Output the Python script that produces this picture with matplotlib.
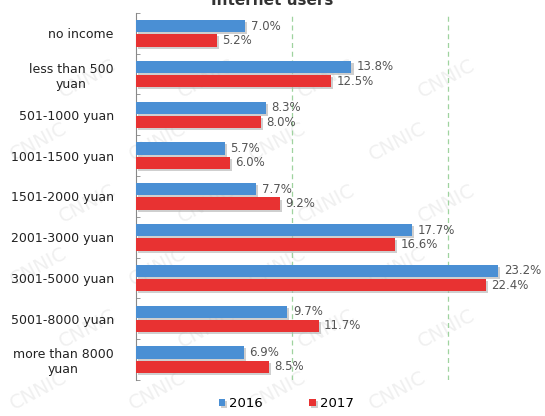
import numpy as np
import matplotlib.pyplot as plt
import matplotlib.patheffects as pe

categories = ['no income', 'less than 500\nyuan', '501-1000 yuan', '1001-1500 yuan',
              '1501-2000 yuan', '2001-3000 yuan', '3001-5000 yuan', '5001-8000 yuan',
              'more than 8000\nyuan']
share_2016 = [7.0, 13.8, 8.3, 5.7, 7.7, 17.7, 23.2, 9.7, 6.9]
share_2017 = [5.2, 12.5, 8.0, 6.0, 9.2, 16.6, 22.4, 11.7, 8.5]

blue = '#4a8fd4'
red = '#e83232'

fig = plt.figure(figsize=(5.45, 4.16), dpi=100)

# faint watermark tiles on a background layer
bg = fig.add_axes([0, 0, 1, 1], zorder=-1)
bg.set_axis_off()
for i, wy in enumerate(np.arange(0.06, 0.96, 0.15)):
    for wx in np.arange(0.07, 0.95, 0.22):
        bg.text(wx + (0.09 if i % 2 else 0), wy, 'CNNIC', fontsize=14, color='#f0f0f0',
                rotation=28, ha='center', va='center', transform=bg.transAxes)

ax = fig.add_axes([0.2495, 0.0865, 0.7505, 0.8825])

y = np.arange(len(categories))
h = 0.3
gap = 0.05
shadow = [pe.SimplePatchShadow(offset=(1.5, -1.5), shadow_rgbFace='#b0b0b0', alpha=0.6), pe.Normal()]

b1 = ax.barh(y - (h + gap) / 2, share_2016, height=h, color=blue, label='2016', zorder=3)
b2 = ax.barh(y + (h + gap) / 2, share_2017, height=h, color=red, label='2017', zorder=3)
for bar in list(b1) + list(b2):
    bar.set_path_effects(shadow)

for yy, v in zip(y - (h + gap) / 2, share_2016):
    ax.text(v + 0.35, yy, f'{v:.1f}%', va='center', ha='left', fontsize=8.5, color='#555555', zorder=4)
for yy, v in zip(y + (h + gap) / 2, share_2017):
    ax.text(v + 0.35, yy, f'{v:.1f}%', va='center', ha='left', fontsize=8.5, color='#555555', zorder=4)

ax.set_ylim(len(categories) - 0.5, -0.5)
ax.set_xlim(0, 26.2)
ax.set_yticks(y)
ax.set_yticklabels(categories, fontsize=9, color='#222222', multialignment='center')
ax.set_yticks(np.arange(-0.5, len(categories)), minor=True)
ax.tick_params(axis='y', which='major', length=0, pad=16)
ax.tick_params(axis='y', which='minor', length=3, direction='in', color='#888888')
ax.set_xticks([])
for x in (10, 20):
    ax.axvline(x, color='#9fd39f', linestyle=(0, (4, 3)), linewidth=0.9, zorder=1)

for s in ('top', 'right', 'bottom'):
    ax.spines[s].set_visible(False)
ax.spines['left'].set_color('#888888')
ax.patch.set_alpha(0)

# chart title, partly above the top edge
fig.text(0.5, 0.998, 'Internet users', ha='center', va='center', fontsize=11,
         fontweight='bold', color='#333333')

fig.legend(handles=[b1, b2], labels=['2016', '2017'], loc='center', ncol=2,
           bbox_to_anchor=(0.525, 0.03), frameon=False, fontsize=9.5,
           handlelength=0.5, handleheight=0.5, columnspacing=3.5, handletextpad=0.3)

plt.savefig('out.png', dpi=100)
plt.close()
